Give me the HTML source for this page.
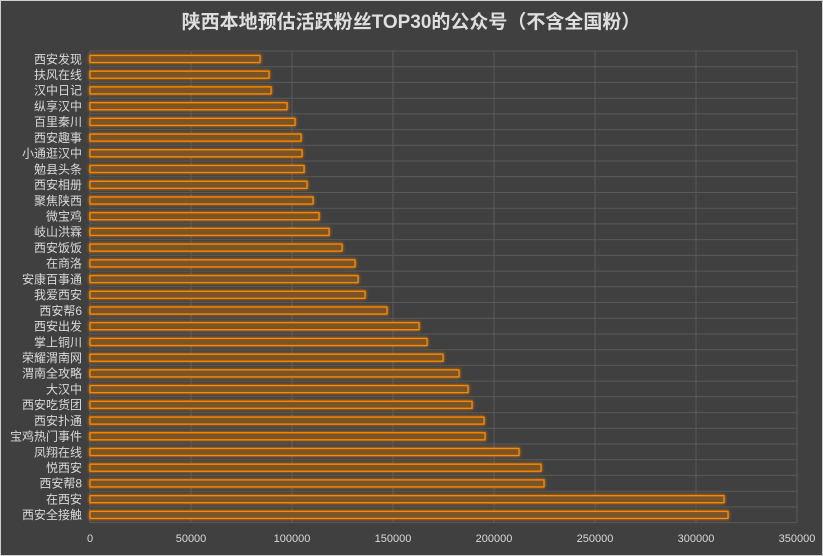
<!DOCTYPE html>
<html><head><meta charset="utf-8"><style>
html,body{margin:0;padding:0;background:#404040}
svg{display:block}
text{font-family:"Liberation Sans","Noto Sans CJK SC",sans-serif}
.l{font-size:12px;fill:#d9d9d9;text-anchor:end}
.t{font-size:11px;fill:#d9d9d9;text-anchor:middle}
.b{fill:#7a5328;stroke:#ff8a00;stroke-width:1.3}
</style></head><body>
<svg width="823" height="556" xmlns="http://www.w3.org/2000/svg">
<defs><filter id="g" x="-5%" y="-100%" width="110%" height="300%"><feGaussianBlur stdDeviation="1.5" result="b"/><feMerge><feMergeNode in="b"/><feMergeNode in="SourceGraphic"/></feMerge></filter></defs>
<rect x="0.5" y="0.5" width="822" height="555" fill="#404040" stroke="#d0d0d0"/>
<text x="411" y="28" font-size="19" font-weight="bold" fill="#dedede" text-anchor="middle">陕西本地预估活跃粉丝TOP30的公众号（不含全国粉）</text>
<g stroke="#5a5a5a" stroke-width="1">
<line x1="90" y1="51" x2="797" y2="51"/><line x1="90" y1="66.7" x2="797" y2="66.7"/><line x1="90" y1="82.4" x2="797" y2="82.4"/><line x1="90" y1="98.2" x2="797" y2="98.2"/><line x1="90" y1="113.9" x2="797" y2="113.9"/><line x1="90" y1="129.6" x2="797" y2="129.6"/><line x1="90" y1="145.3" x2="797" y2="145.3"/><line x1="90" y1="161" x2="797" y2="161"/><line x1="90" y1="176.8" x2="797" y2="176.8"/><line x1="90" y1="192.5" x2="797" y2="192.5"/><line x1="90" y1="208.2" x2="797" y2="208.2"/><line x1="90" y1="223.9" x2="797" y2="223.9"/><line x1="90" y1="239.6" x2="797" y2="239.6"/><line x1="90" y1="255.4" x2="797" y2="255.4"/><line x1="90" y1="271.1" x2="797" y2="271.1"/><line x1="90" y1="286.8" x2="797" y2="286.8"/><line x1="90" y1="302.5" x2="797" y2="302.5"/><line x1="90" y1="318.2" x2="797" y2="318.2"/><line x1="90" y1="334" x2="797" y2="334"/><line x1="90" y1="349.7" x2="797" y2="349.7"/><line x1="90" y1="365.4" x2="797" y2="365.4"/><line x1="90" y1="381.1" x2="797" y2="381.1"/><line x1="90" y1="396.8" x2="797" y2="396.8"/><line x1="90" y1="412.6" x2="797" y2="412.6"/><line x1="90" y1="428.3" x2="797" y2="428.3"/><line x1="90" y1="444" x2="797" y2="444"/><line x1="90" y1="459.7" x2="797" y2="459.7"/><line x1="90" y1="475.4" x2="797" y2="475.4"/><line x1="90" y1="491.2" x2="797" y2="491.2"/><line x1="90" y1="506.9" x2="797" y2="506.9"/><line x1="90" y1="522.6" x2="797" y2="522.6"/>
<line x1="90" y1="51" x2="90" y2="522.6"/><line x1="191" y1="51" x2="191" y2="522.6"/><line x1="292" y1="51" x2="292" y2="522.6"/><line x1="393" y1="51" x2="393" y2="522.6"/><line x1="494" y1="51" x2="494" y2="522.6"/><line x1="595" y1="51" x2="595" y2="522.6"/><line x1="696" y1="51" x2="696" y2="522.6"/><line x1="797" y1="51" x2="797" y2="522.6"/>
</g>
<g filter="url(#g)">
<rect class="b" x="90" y="55.5" width="170" height="7"/>
<rect class="b" x="90" y="71.2" width="179" height="7"/>
<rect class="b" x="90" y="86.9" width="181" height="7"/>
<rect class="b" x="90" y="102.7" width="197" height="7"/>
<rect class="b" x="90" y="118.4" width="205" height="7"/>
<rect class="b" x="90" y="134.1" width="211" height="7"/>
<rect class="b" x="90" y="149.8" width="212" height="7"/>
<rect class="b" x="90" y="165.5" width="214" height="7"/>
<rect class="b" x="90" y="181.3" width="217" height="7"/>
<rect class="b" x="90" y="197" width="223" height="7"/>
<rect class="b" x="90" y="212.7" width="229" height="7"/>
<rect class="b" x="90" y="228.4" width="239" height="7"/>
<rect class="b" x="90" y="244.1" width="252" height="7"/>
<rect class="b" x="90" y="259.9" width="265" height="7"/>
<rect class="b" x="90" y="275.6" width="268" height="7"/>
<rect class="b" x="90" y="291.3" width="275" height="7"/>
<rect class="b" x="90" y="307" width="297" height="7"/>
<rect class="b" x="90" y="322.7" width="329" height="7"/>
<rect class="b" x="90" y="338.5" width="337" height="7"/>
<rect class="b" x="90" y="354.2" width="353" height="7"/>
<rect class="b" x="90" y="369.9" width="369" height="7"/>
<rect class="b" x="90" y="385.6" width="378" height="7"/>
<rect class="b" x="90" y="401.3" width="382" height="7"/>
<rect class="b" x="90" y="417.1" width="394" height="7"/>
<rect class="b" x="90" y="432.8" width="395" height="7"/>
<rect class="b" x="90" y="448.5" width="429" height="7"/>
<rect class="b" x="90" y="464.2" width="451" height="7"/>
<rect class="b" x="90" y="479.9" width="454" height="7"/>
<rect class="b" x="90" y="495.7" width="634" height="7"/>
<rect class="b" x="90" y="511.4" width="638" height="7"/>
</g>
<g class="l">
<text class="l" x="82" y="63.3">西安发现</text>
<text class="l" x="82" y="79">扶风在线</text>
<text class="l" x="82" y="94.7">汉中日记</text>
<text class="l" x="82" y="110.5">纵享汉中</text>
<text class="l" x="82" y="126.2">百里秦川</text>
<text class="l" x="82" y="141.9">西安趣事</text>
<text class="l" x="82" y="157.6">小通逛汉中</text>
<text class="l" x="82" y="173.3">勉县头条</text>
<text class="l" x="82" y="189.1">西安相册</text>
<text class="l" x="82" y="204.8">聚焦陕西</text>
<text class="l" x="82" y="220.5">微宝鸡</text>
<text class="l" x="82" y="236.2">岐山洪霖</text>
<text class="l" x="82" y="251.9">西安饭饭</text>
<text class="l" x="82" y="267.7">在商洛</text>
<text class="l" x="82" y="283.4">安康百事通</text>
<text class="l" x="82" y="299.1">我爱西安</text>
<text class="l" x="82" y="314.8">西安帮6</text>
<text class="l" x="82" y="330.5">西安出发</text>
<text class="l" x="82" y="346.3">掌上铜川</text>
<text class="l" x="82" y="362">荣耀渭南网</text>
<text class="l" x="82" y="377.7">渭南全攻略</text>
<text class="l" x="82" y="393.4">大汉中</text>
<text class="l" x="82" y="409.1">西安吃货团</text>
<text class="l" x="82" y="424.9">西安扑通</text>
<text class="l" x="82" y="440.6">宝鸡热门事件</text>
<text class="l" x="82" y="456.3">凤翔在线</text>
<text class="l" x="82" y="472">悦西安</text>
<text class="l" x="82" y="487.7">西安帮8</text>
<text class="l" x="82" y="503.5">在西安</text>
<text class="l" x="82" y="519.2">西安全接触</text>
</g>
<text class="t" x="90" y="542">0</text>
<text class="t" x="191" y="542">50000</text>
<text class="t" x="292" y="542">100000</text>
<text class="t" x="393" y="542">150000</text>
<text class="t" x="494" y="542">200000</text>
<text class="t" x="595" y="542">250000</text>
<text class="t" x="696" y="542">300000</text>
<text class="t" x="797" y="542">350000</text>
</svg>
</body></html>
